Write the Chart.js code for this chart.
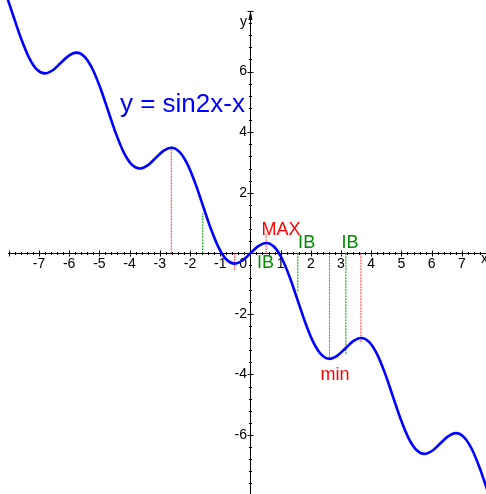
<!DOCTYPE html>
<html>
<head>
<meta charset="utf-8">
<script src="https://cdn.jsdelivr.net/npm/chart.js@4"></script>
<style>
  body { margin: 0; background: #fff; }
  #wrap { width: 486px; height: 494px; }
</style>
</head>
<body>
<div id="wrap"><canvas id="graph"></canvas></div>
<script>
// y = sin2x - x, sampled every pi/12
const curveX = [-8.378, -8.116, -7.854, -7.592, -7.330, -7.069, -6.807, -6.545, -6.283, -6.021,
  -5.760, -5.498, -5.236, -4.974, -4.712, -4.451, -4.189, -3.927, -3.665, -3.403,
  -3.142, -2.880, -2.618, -2.356, -2.094, -1.833, -1.571, -1.309, -1.047, -0.785,
  -0.524, -0.262, 0, 0.262, 0.524, 0.785, 1.047, 1.309, 1.571, 1.833,
  2.094, 2.356, 2.618, 2.880, 3.142, 3.403, 3.665, 3.927, 4.189, 4.451,
  4.712, 4.974, 5.236, 5.498, 5.760, 6.021, 6.283, 6.545, 6.807, 7.069,
  7.330, 7.592, 7.854, 8.116];
const curveY = [9.244, 8.616, 7.854, 7.092, 6.464, 6.069, 5.941, 6.045, 6.283, 6.521,
  6.626, 6.498, 6.102, 5.474, 4.712, 3.951, 3.323, 2.927, 2.799, 2.903,
  3.142, 3.380, 3.484, 3.356, 2.960, 2.333, 1.571, 0.809, 0.181, -0.215,
  -0.342, -0.238, 0, 0.238, 0.342, 0.215, -0.181, -0.809, -1.571, -2.333,
  -2.960, -3.356, -3.484, -3.380, -3.142, -2.903, -2.799, -2.927, -3.323, -3.951,
  -4.712, -5.474, -6.102, -6.498, -6.626, -6.521, -6.283, -6.045, -5.941, -6.069,
  -6.464, -7.092, -7.854, -8.616];

// red markers at the extrema, green ones at the inflection points
const extremaX = [-2.62, -0.52, 0.52, 2.62, 3.66];
const extremaY = [3.52, -0.55, 0.65, -3.55, -2.95];
const inflectX = [-1.58, 1.57, 3.16];
const inflectY = [1.33, -1.28, -3.36];

const xTickLabels = [-7, -6, -5, -4, -3, -2, -1, 1, 2, 3, 4, 5, 6, 7];
const yTickLabels = [-6, -4, -2, 2, 4, 6];

const FONT = "'Liberation Sans', Arial, sans-serif";

function segments(xs, ys, color, width) {
    return xs.map((xv, i) => ({
        data: [{ x: xv, y: 0 }, { x: xv, y: ys[i] }],
        borderColor: color,
        borderWidth: width,
        borderDash: [2, 1],
        pointRadius: 0
    }));
}

const axesPlugin = {
    id: 'axesPlugin',
    beforeDatasetsDraw(chart) {
        const { ctx, chartArea, scales: { x, y } } = chart;
        const x0 = Math.round(x.getPixelForValue(0)) + 0.5;
        const y0 = Math.round(y.getPixelForValue(0)) + 0.5;

        ctx.save();
        ctx.strokeStyle = '#000';
        ctx.fillStyle = '#000';
        ctx.lineWidth = 1;
        ctx.beginPath();
        ctx.moveTo(8, y0);
        ctx.lineTo(chartArea.right, y0);
        ctx.moveTo(x0, chartArea.bottom);
        ctx.lineTo(x0, 14);

        // small ticks every 0.2 on x, every 0.4 on y
        for (let i = -40; i <= 39; i++) {
            if (i === 0) continue;
            const px = Math.round(x.getPixelForValue(i * 0.2)) + 0.5;
            const len = i % 5 === 0 ? 3 : 1.5;
            ctx.moveTo(px, y0 - len);
            ctx.lineTo(px, y0 + len);
        }
        for (let i = -19; i <= 20; i++) {
            if (i === 0) continue;
            const py = Math.round(y.getPixelForValue(i * 0.4)) + 0.5;
            const len = i % 5 === 0 ? 3 : 1.5;
            ctx.moveTo(x0 - len, py);
            ctx.lineTo(x0 + len, py);
        }
        ctx.stroke();

        // arrow head on the y axis
        ctx.beginPath();
        ctx.moveTo(x0, 10);
        ctx.lineTo(x0 - 2, 20);
        ctx.lineTo(x0 + 2, 20);
        ctx.closePath();
        ctx.fill();

        ctx.font = '14px ' + FONT;
        ctx.textBaseline = 'alphabetic';
        ctx.textAlign = 'center';
        xTickLabels.forEach(v => {
            ctx.fillText(String(v), x.getPixelForValue(v), 268);
        });
        ctx.textAlign = 'right';
        ctx.textBaseline = 'middle';
        yTickLabels.forEach(v => {
            ctx.fillText(String(v), x0 - 3.5, y.getPixelForValue(v));
        });
        ctx.textBaseline = 'alphabetic';
        ctx.fillText('0', x0 - 3.5, 268);
        ctx.fillText('y', x0 - 3.5, 26);
        ctx.textAlign = 'left';
        ctx.fillText('x', 481, 263);
        ctx.restore();
    },
    afterDatasetsDraw(chart) {
        const { ctx, scales: { x, y } } = chart;
        const notes = [
            { text: 'y = sin2x-x', x: -4.32, y: 4.66, color: '#0000ff', size: 26, align: 'left' },
            { text: 'MAX', x: 1.01, y: 0.60, color: '#ff0000', size: 18, align: 'center' },
            { text: 'IB', x: 0.22, y: -0.49, color: '#008c00', size: 18, align: 'left' },
            { text: 'IB', x: 1.58, y: 0.17, color: '#008c00', size: 18, align: 'left' },
            { text: 'IB', x: 3.02, y: 0.17, color: '#008c00', size: 18, align: 'left' },
            { text: 'min', x: 2.80, y: -4.18, color: '#ff0000', size: 18, align: 'center' }
        ];
        ctx.save();
        ctx.textBaseline = 'alphabetic';
        notes.forEach(n => {
            ctx.font = n.size + 'px ' + FONT;
            ctx.fillStyle = n.color;
            ctx.textAlign = n.align;
            ctx.fillText(n.text, x.getPixelForValue(n.x), y.getPixelForValue(n.y));
        });
        ctx.restore();
    }
};

const curve = {
    data: curveX.map((xv, i) => ({ x: xv, y: curveY[i] })),
    borderColor: '#0000ff',
    borderWidth: 2.6,
    pointRadius: 0,
    cubicInterpolationMode: 'monotone'
};

new Chart(document.getElementById('graph'), {
    type: 'line',
    data: {
        datasets: [curve]
            .concat(segments(extremaX, extremaY, 'rgba(255, 0, 0, 0.8)', 1))
            .concat(segments(inflectX, inflectY, 'rgba(0, 150, 0, 0.7)', 1.5))
    },
    options: {
        responsive: true,
        maintainAspectRatio: false,
        animation: false,
        layout: { padding: 0 },
        plugins: {
            legend: { display: false },
            tooltip: { enabled: false }
        },
        scales: {
            x: { type: 'linear', min: -8.29, max: 7.80, display: false },
            y: { type: 'linear', min: -7.95, max: 8.365, display: false }
        }
    },
    plugins: [axesPlugin]
});
</script>
</body>
</html>
